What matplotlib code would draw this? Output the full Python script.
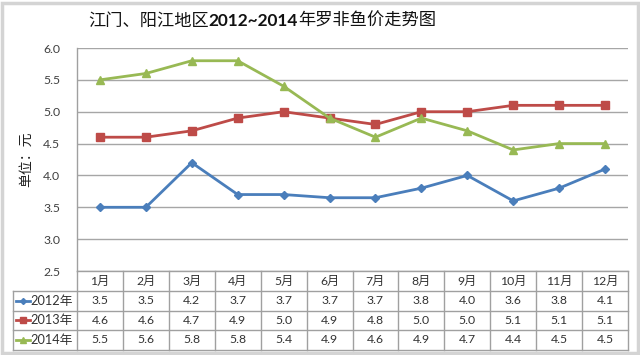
import numpy as np
import matplotlib
matplotlib.use("Agg")
import matplotlib.pyplot as plt
import matplotlib.transforms as mtransforms
from matplotlib.patches import Rectangle
from matplotlib.lines import Line2D

plt.rcParams['font.family'] = ['Lato', 'Noto Sans CJK SC', 'DejaVu Sans']

months = ["1月", "2月", "3月", "4月", "5月", "6月", "7月", "8月", "9月", "10月", "11月", "12月"]
series_names = ["2012年", "2013年", "2014年"]
price_2012 = [3.5, 3.5, 4.2, 3.7, 3.7, 3.65, 3.65, 3.8, 4.0, 3.6, 3.8, 4.1]
price_2013 = [4.6, 4.6, 4.7, 4.9, 5.0, 4.9, 4.8, 5.0, 5.0, 5.1, 5.1, 5.1]
price_2014 = [5.5, 5.6, 5.8, 5.8, 5.4, 4.9, 4.6, 4.9, 4.7, 4.4, 4.5, 4.5]
yticks = [2.5, 3.0, 3.5, 4.0, 4.5, 5.0, 5.5, 6.0]
title_parts = ["江门、阳江地区", "2012~2014", "年罗非鱼价走势图"]
ylabel = "单位：元"

W, H = 640, 355
fig = plt.figure(figsize=(W / 100, H / 100), dpi=100)
fig.patch.set_facecolor("white")

def fx(x):
    return x / W

def fy(y):
    return 1 - y / H

# outer frame
fig.add_artist(Rectangle((fx(2), fy(353)), fx(636), 350 / H, transform=fig.transFigure,
                         fill=False, edgecolor="#d4d4d4", linewidth=2.5))

left, right, top, bottom = 77, 628, 48, 271
ax = fig.add_axes([fx(left), fy(bottom), fx(right - left), (bottom - top) / H])

colors = ["#4a7ebb", "#be4b48", "#98b954"]
markers = ["D", "s", "^"]
msizes = [3.8, 6, 6]
data = [price_2012, price_2013, price_2014]
x = np.arange(len(months))
for vals, c, m, ms in zip(data, colors, markers, msizes):
    ax.plot(x, vals, color=c, marker=m, markersize=ms, linewidth=2.0,
            markeredgecolor=c, markerfacecolor=c, zorder=3)

ax.set_xlim(-0.5, len(months) - 0.5)
ax.set_ylim(2.5, 6.0)
ax.set_yticks(yticks)
ax.set_yticklabels([f"{v:.1f}" for v in yticks], fontsize=8.8, color="#404040")
ax.tick_params(axis="y", length=0, pad=12)
ax.set_xticks([])
for s in ["top", "right", "bottom"]:
    ax.spines[s].set_visible(False)
ax.spines["left"].set_color("#a0a0a0")
ax.spines["left"].set_linewidth(1.0)
ax.yaxis.grid(True, color="#a6a6a6", linewidth=1.0)
ax.set_axisbelow(True)

# y label
fig.text(fx(26), fy(159), ylabel, rotation=90, ha="center", va="center",
         fontsize=10, family=["Noto Sans CJK SC"], color="#222222")

# title in three parts (bold digits)
t1 = fig.text(fx(88), fy(21), title_parts[0], ha="left", va="center",
              fontsize=12.4, family=["Noto Sans CJK SC"], color="#111111")
t2 = ax.annotate(title_parts[1], xy=(1, 0.5), xycoords=t1, ha="left", va="center",
                 fontsize=12.4, fontweight="bold", family=["Lato"], color="#111111",
                 annotation_clip=False)
t3 = ax.annotate(title_parts[2], xy=(1, 0.5), xycoords=t2, ha="left", va="center",
                 fontsize=12.4, family=["Noto Sans CJK SC"], color="#111111",
                 annotation_clip=False)

# data table
btrans = mtransforms.blended_transform_factory(ax.transData, fig.transFigure)
row_y = [271, 291, 310.5, 330, 349.5]
border = "#a0a0a0"
tcol = "#333333"
tab_left = 13

# horizontal lines
fig.add_artist(Line2D([fx(left), fx(right)], [fy(row_y[0])] * 2, transform=fig.transFigure,
                      color=border, lw=1.0))
for yy in row_y[1:]:
    fig.add_artist(Line2D([fx(tab_left), fx(right)], [fy(yy)] * 2, transform=fig.transFigure,
                          color=border, lw=1.0))
# vertical lines
fig.add_artist(Line2D([fx(tab_left)] * 2, [fy(row_y[1]), fy(row_y[-1])], transform=fig.transFigure,
                      color=border, lw=1.0))
for b in np.arange(-0.5, len(months), 1.0):
    fig.add_artist(Line2D([b, b], [fy(row_y[0]), fy(row_y[-1])], transform=btrans,
                          color=border, lw=1.0))

def fmt(v):
    return f"{np.floor(v * 10 + 0.5) / 10:.1f}"

for i, mth in enumerate(months):
    fig.text(i, fy((row_y[0] + row_y[1]) / 2), mth, transform=btrans, ha="center", va="center",
             fontsize=8.8, color=tcol)
for r, (vals, name, c, m, ms) in enumerate(zip(data, series_names, colors, markers, msizes)):
    yc = fy((row_y[r + 1] + row_y[r + 2]) / 2)
    for i, v in enumerate(vals):
        fig.text(i, yc, fmt(v), transform=btrans, ha="center", va="center",
                 fontsize=8.8, color=tcol)
    fig.add_artist(Line2D([fx(16), fx(30)], [yc, yc], transform=fig.transFigure, color=c, lw=2.0))
    fig.add_artist(Line2D([fx(23)], [yc], transform=fig.transFigure, color=c, marker=m,
                          markersize=ms * 0.8, markerfacecolor=c, markeredgecolor=c))
    fig.text(fx(30), yc, name, ha="left", va="center", fontsize=9.2, color=tcol)

fig.savefig("out.png", dpi=100)
